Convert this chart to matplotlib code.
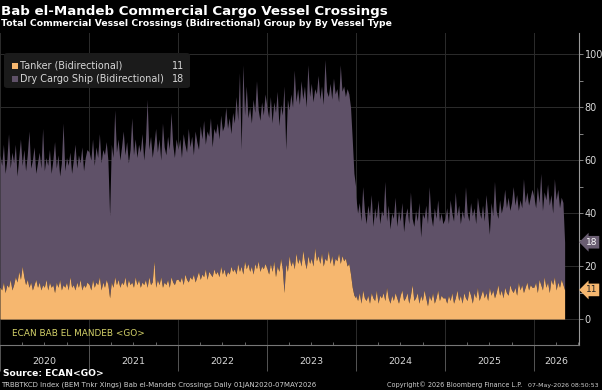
import matplotlib
matplotlib.use("Agg")
import matplotlib.pyplot as plt
import matplotlib.dates as mdates
import matplotlib.transforms as mtransforms
from matplotlib.patches import FancyBboxPatch, Rectangle
import numpy as np
import pandas as pd

# weekly readings of the daily series, stacked total and tanker part
total_2020 = [62, 58, 66, 55, 60, 70, 57, 63, 59, 66, 54, 61, 68, 58, 64, 56, 62, 71, 57, 60,
              65, 55, 59, 63, 57, 72, 56, 61, 58, 64, 55, 60, 67, 57, 62, 54, 59, 74, 56, 61,
              58, 63, 55, 60, 66, 57, 62, 59, 65, 56, 61, 64]
tanker_2020 = [12, 11, 14, 10, 13, 12, 15, 11, 13, 16, 14, 18, 15, 20, 16, 13, 15, 12, 14, 11,
               13, 15, 12, 14, 11, 13, 12, 15, 11, 14, 12, 13, 10, 14, 12, 15, 11, 13, 12, 14,
               11, 16, 12, 13, 11, 14, 12, 15, 11, 13, 12, 14]
total_2021 = [63, 60, 68, 58, 65, 61, 70, 59, 64, 62, 67, 60, 39, 66, 61, 79, 63, 68, 60, 65,
              71, 62, 67, 59, 64, 76, 62, 68, 61, 66, 63, 70, 60, 67, 83, 64, 69, 61, 66, 72,
              63, 68, 60, 74, 65, 62, 69, 64, 78, 66, 61, 68]
tanker_2021 = [13, 11, 15, 12, 14, 13, 16, 11, 14, 12, 15, 13, 8, 14, 12, 16, 13, 15, 12, 14,
               13, 16, 12, 15, 13, 14, 12, 16, 13, 15, 12, 14, 13, 15, 12, 16, 13, 14, 22, 12,
               15, 13, 16, 12, 14, 13, 15, 12, 16, 14, 13, 15]
total_2022 = [64, 68, 61, 70, 66, 63, 72, 65, 69, 62, 71, 67, 64, 73, 68, 75, 66, 71, 69, 76,
              65, 72, 70, 74, 68, 77, 71, 73, 80, 72, 76, 70, 78, 74, 84, 75, 93, 64, 96, 77,
              88, 76, 80, 74, 83, 78, 90, 79, 75, 82, 77, 85]
tanker_2022 = [15, 14, 16, 13, 17, 15, 14, 16, 15, 17, 14, 16, 18, 15, 17, 16, 19, 15, 18, 17,
               16, 19, 17, 18, 16, 20, 17, 19, 16, 18, 17, 20, 18, 19, 17, 21, 18, 20, 17, 22,
               19, 21, 18, 20, 17, 21, 19, 22, 18, 20, 19, 21]
total_2023 = [80, 76, 84, 74, 82, 78, 86, 73, 81, 77, 88, 64, 83, 79, 85, 80, 94, 82, 87, 81,
              90, 83, 88, 80, 96, 84, 89, 82, 87, 85, 92, 83, 88, 81, 98, 86, 84, 89, 83, 91,
              85, 87, 82, 96, 86, 88, 84, 87, 85, 80, 68, 55, 50]
tanker_2023 = [19, 17, 21, 18, 22, 16, 20, 18, 23, 19, 10, 21, 18, 24, 20, 22, 19, 25, 21, 23,
               20, 26, 22, 19, 24, 21, 23, 20, 27, 22, 24, 21, 25, 20, 23, 22, 26, 21, 24, 20,
               23, 22, 25, 21, 24, 22, 23, 20, 21, 17, 12, 9, 8]
total_2024 = [46, 40, 44, 37, 50, 41, 36, 43, 39, 47, 35, 42, 38, 45, 36, 41, 39, 52, 37, 43,
              34, 40, 38, 46, 35, 41, 37, 44, 33, 39, 42, 36, 48, 38, 35, 41, 37, 44, 31, 40,
              38, 43, 36, 50, 39, 35, 42, 38, 45, 37, 40, 36]
tanker_2024 = [9, 7, 10, 6, 11, 8, 7, 9, 6, 10, 8, 7, 11, 6, 9, 8, 10, 7, 12, 8,
               6, 9, 7, 10, 8, 6, 9, 11, 7, 8, 10, 6, 9, 13, 7, 8, 10, 6, 9, 7,
               11, 8, 5, 9, 7, 10, 6, 8, 11, 7, 9, 8]
total_2025 = [38, 42, 36, 45, 40, 37, 48, 39, 43, 36, 41, 38, 50, 40, 37, 44, 39, 42, 36, 46,
              41, 38, 43, 37, 47, 40, 32, 44, 39, 52, 41, 38, 45, 40, 43, 49, 42, 46, 41, 44,
              50, 43, 47, 41, 45, 42, 53, 44, 48, 43, 46, 49]
tanker_2025 = [8, 6, 9, 7, 10, 6, 8, 11, 7, 9, 6, 10, 8, 7, 11, 9, 6, 10, 8, 12,
               7, 9, 11, 8, 10, 7, 12, 9, 11, 8, 10, 13, 9, 11, 8, 12, 10, 9, 13, 11,
               10, 12, 9, 14, 11, 13, 10, 12, 14, 11, 13, 12]
total_2026 = [46, 42, 50, 44, 55, 41, 48, 45, 51, 43, 47, 40, 53, 45, 49, 42, 46, 44, 29]
tanker_2026 = [12, 14, 10, 15, 13, 11, 16, 12, 14, 10, 15, 13, 16, 11, 14, 12, 15, 13, 11]

years = [2020, 2021, 2022, 2023, 2024, 2025, 2026]
totals = [total_2020, total_2021, total_2022, total_2023, total_2024, total_2025, total_2026]
tankers = [tanker_2020, tanker_2021, tanker_2022, tanker_2023, tanker_2024, tanker_2025, tanker_2026]

series_names = ["Tanker (Bidirectional)", "Dry Cargo Ship (Bidirectional)"]
last_values = [11, 18]

dates = pd.DatetimeIndex(np.concatenate([
    pd.date_range(f"{y}-01-01", periods=len(t), freq="7D") for y, t in zip(years, totals)
]))
total = np.concatenate(totals).astype(float)
tanker = np.concatenate(tankers).astype(float)
dry_cargo = total - tanker

TANKER_COLOR = "#f6b76f"
DRY_COLOR = "#5f5168"
GRID_COLOR = "#2c2c2c"
AXIS_COLOR = "#9a9a9a"
TEXT_COLOR = "#d8d8d8"

W, H = 602, 390
x_start, x_end = pd.Timestamp("2020-01-01"), pd.Timestamp("2026-07-05")


def fx(px):
    return px / W


def fy(py):
    return 1 - py / H


fig = plt.figure(figsize=(W / 100, H / 100), dpi=100, facecolor="black")
ax = fig.add_axes([0, fy(345), fx(579), (345 - 33) / H], facecolor="black")

ax.fill_between(dates, 0, tanker, color=TANKER_COLOR, linewidth=0, zorder=3)
ax.fill_between(dates, tanker, tanker + dry_cargo, color=DRY_COLOR, linewidth=0, zorder=2)

ax.set_ylim(-9.8, 108)
ax.set_xlim(x_start, x_end)

# y axis on the right
ax.yaxis.tick_right()
ax.set_yticks([0, 20, 40, 60, 80, 100])
ax.set_yticks(np.arange(10, 101, 20), minor=True)
ax.tick_params(axis="y", which="both", direction="out", length=3, width=0.6,
               colors=AXIS_COLOR, labelcolor=TEXT_COLOR, labelsize=7, pad=1)
ax.grid(axis="y", which="major", color=GRID_COLOR, linewidth=0.7, zorder=0)

# x axis: year separators and quarter ticks
ax.xaxis.set_major_locator(mdates.YearLocator())
ax.xaxis.set_minor_locator(mdates.MonthLocator(bymonth=[4, 7, 10]))
ax.xaxis.set_major_formatter(plt.NullFormatter())
ax.tick_params(axis="x", which="major", direction="out", length=19, width=0.7, colors="#555555")
ax.tick_params(axis="x", which="minor", direction="in", length=2.5, width=0.6, colors="#777777")
ax.grid(axis="x", which="major", color=GRID_COLOR, linewidth=0.7, zorder=0)

xform = mtransforms.blended_transform_factory(ax.transData, fig.transFigure)
for y in years:
    lo = pd.Timestamp(f"{y}-01-01")
    hi = min(pd.Timestamp(f"{y + 1}-01-01"), x_end)
    ax.text(lo + (hi - lo) / 2, fy(362), str(y), transform=xform,
            ha="center", va="center", fontsize=6.8, color=TEXT_COLOR)

for side in ["left", "top"]:
    ax.spines[side].set_visible(False)
ax.spines["right"].set_color(AXIS_COLOR)
ax.spines["bottom"].set_color("#777777")
ax.spines["right"].set_linewidth(0.8)
ax.spines["bottom"].set_linewidth(0.8)

# last value badges
badge_x = mtransforms.blended_transform_factory(ax.transAxes, ax.transData)
ax.annotate(str(last_values[1]), xy=(1.0, tanker[-1] + dry_cargo[-1]), xycoords=badge_x,
            xytext=(5, 0), textcoords="offset points", ha="left", va="center",
            fontsize=6.5, color="white",
            bbox=dict(boxstyle="larrow,pad=0.2", fc="#6a5e72", ec="none"))
ax.annotate(str(last_values[0]), xy=(1.0, tanker[-1]), xycoords=badge_x,
            xytext=(5, 0), textcoords="offset points", ha="left", va="center",
            fontsize=6.5, color="#222222",
            bbox=dict(boxstyle="larrow,pad=0.2", fc=TANKER_COLOR, ec="none"))

# legend box
fig.patches.append(FancyBboxPatch((fx(4), fy(88)), fx(186), 35 / H,
                                  boxstyle="round,pad=0,rounding_size=0.006",
                                  transform=fig.transFigure, fc="#1b1b1b", ec="none", zorder=5))
for row_y, name, val, col in zip([66, 79], series_names, last_values, [TANKER_COLOR, DRY_COLOR]):
    fig.patches.append(Rectangle((fx(12), fy(row_y + 3)), fx(6), 6 / H,
                                 transform=fig.transFigure, fc=col, ec="none", zorder=6))
    fig.text(fx(20), fy(row_y), name, fontsize=6.9, color=TEXT_COLOR, va="center", ha="left", zorder=6)
    fig.text(fx(184), fy(row_y), str(val), fontsize=6.9, color=TEXT_COLOR, va="center", ha="right", zorder=6)

fig.text(fx(12), fy(333), "ECAN BAB EL MANDEB <GO>", fontsize=6.4, color="#d6d46a", va="center", ha="left")

# titles and footer
fig.text(fx(1), fy(11), "Bab el-Mandeb Commercial Cargo Vessel Crossings", fontsize=9.6,
         fontweight="bold", color="white", va="center", ha="left")
fig.text(fx(1), fy(24), "Total Commercial Vessel Crossings (Bidirectional) Group by By Vessel Type",
         fontsize=6.65, fontweight="bold", color="white", va="center", ha="left")
fig.text(fx(3), fy(374), "Source: ECAN<GO>", fontsize=6.6, fontweight="bold", color="white",
         va="center", ha="left")
fig.text(fx(1), fy(385), "TRBBTKCD Index (BEM Tnkr Xings) Bab el-Mandeb Crossings Daily 01JAN2020-07MAY2026",
         fontsize=5.0, color="#cfcfcf", va="center", ha="left")
fig.text(fx(387), fy(385), "Copyright\u00a9 2026 Bloomberg Finance L.P.", fontsize=4.7,
         color="#cfcfcf", va="center", ha="left")
fig.text(fx(599), fy(385), "07-May-2026 08:50:53", fontsize=4.5, color="#cfcfcf",
         va="center", ha="right")

fig.savefig("out.png", dpi=100, facecolor="black")
